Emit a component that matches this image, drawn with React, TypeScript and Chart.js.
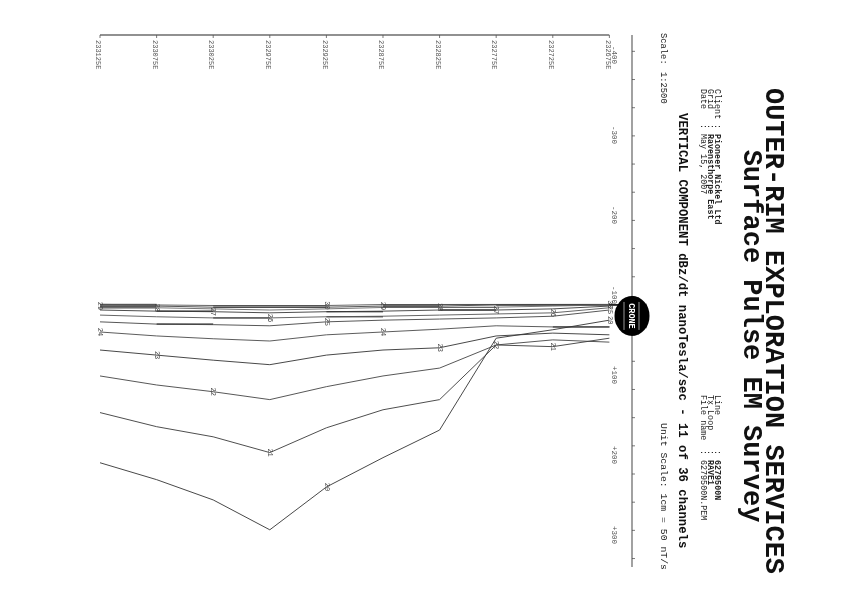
import React, { useEffect, useRef } from "react";
import { Chart, registerables } from "chart.js";

Chart.register(...registerables);

// ---------- DATA ----------
const TITLE = "OUTER-RIM EXPLORATION SERVICES";
const SUBTITLE = "Surface Pulse EM Survey";
const INFO_LEFT: [string, string, boolean][] = [
  ["Client", "Pioneer Nickel Ltd", true],
  ["Grid", "Ravensthorpe East", true],
  ["Date", "May 15, 2007", false],
];
const INFO_RIGHT: [string, string, boolean][] = [
  ["Line", "6279500N", true],
  ["Tx Loop", "RAVE1", true],
  ["File name", "6279500N.PEM", false],
];
const COMPONENT_TEXT = "VERTICAL COMPONENT dBz/dt nanoTesla/sec - 11 of 36 channels";
const SCALE_LABEL = "Scale:";
const SCALE_VALUE = "1:2500";
const UNIT_SCALE_TEXT = "Unit Scale: 1cm = 50 nT/s";
const LOGO_TEXT = "CRONE";

// stations (easting, m)
const STATIONS = [232675, 232725, 232775, 232825, 232875, 232925, 232975, 233025, 233075, 233125];
// channel numbers
const CHANNELS = [20, 21, 22, 23, 24, 25, 26, 27, 28, 29, 30];
// dBz/dt values in nT/s, one per station (same order as STATIONS)
const CH20 = [27, 44, 59, 222, 271, 323, 399, 346, 310, 280];
const CH21 = [59, 74, 71, 168, 186, 218, 262, 234, 216, 191];
const CH22 = [66, 62, 71, 112, 126, 145, 168, 154, 142, 126];
const CH23 = [53, 50, 55, 76, 80, 89, 106, 98, 89, 80];
const CH24 = [39, 39, 37, 43, 48, 53, 64, 60, 55, 48];
const CH25 = [9, 20, 23, 25, 27, 30, 37, 35, 34, 30];
const CH26 = [5, 14, 16, 18, 20, 21, 23, 23, 21, 18];
const CH27 = [2, 7, 9, 9, 11, 12, 14, 12, 11, 9];
const CH28 = [0, 2, 4, 4, 5, 7, 9, 7, 5, 5];
const CH29 = [0, 0, 0, 2, 2, 4, 4, 4, 2, 2];
const CH30 = [-1, -1, -1, -1, 0, 1, 1, 1, 0, -1];
const SERIES = [CH20, CH21, CH22, CH23, CH24, CH25, CH26, CH27, CH28, CH29, CH30];

// amplitude axis ticks (nT/s) and the printed labels of the side axis
const AMP_TICK_STEP = 50;
const AMP_MIN = -479;
const AMP_MAX = 465;
const SIDE_LABELS = ["-400", "-300", "-200", "-100", "+100", "+200", "+300"];

const MONO = "'Liberation Mono', 'Courier New', 'DejaVu Sans Mono', monospace";

const decor = {
  id: "decor",
  afterDraw(chart: any) {
    const ctx: CanvasRenderingContext2D = chart.ctx;
    const xs = chart.scales.x;
    const ys = chart.scales.y;
    const ls = chart.scales.lab;
    const ca = chart.chartArea;
    ctx.save();

    // Titles
    ctx.fillStyle = "#111";
    ctx.textBaseline = "alphabetic";
    ctx.textAlign = "center";
    ctx.font = `bold 27px ${MONO}`;
    ctx.fillText(TITLE, 331, 76);
    ctx.fillText(SUBTITLE, 336, 98);

    // Info blocks
    ctx.textAlign = "left";
    const drawInfo = (rows: [string, string, boolean][], x0: number, xc: number) => {
      rows.forEach(([k, v, b], i) => {
        const base = 127 + i * 7.2;
        ctx.fillStyle = "#222";
        ctx.font = `8.4px ${MONO}`;
        ctx.fillText(k, x0, base);
        ctx.fillText(":", xc, base);
        ctx.font = `${b ? "bold " : ""}8.4px ${MONO}`;
        ctx.fillText(v, xc + 10, base);
      });
    };
    drawInfo(INFO_LEFT, 89, 124);
    drawInfo(INFO_RIGHT, 395, 450);

    ctx.fillStyle = "#111";
    ctx.font = `bold 12.3px ${MONO}`;
    ctx.fillText(COMPONENT_TEXT, 113, 163);
    ctx.font = `8.8px ${MONO}`;
    ctx.fillStyle = "#222";
    ctx.fillText(SCALE_LABEL, 33, 181);
    ctx.fillText(SCALE_VALUE, 72, 181);
    ctx.textAlign = "right";
    ctx.font = `9.8px ${MONO}`;
    ctx.fillText(UNIT_SCALE_TEXT, ca.right + 3, 181);

    // Station axis (left edge of plot)
    const yFirst = ys.getPixelForValue(STATIONS[0]);
    const yLast = ys.getPixelForValue(STATIONS[STATIONS.length - 1]);
    ctx.strokeStyle = "#555";
    ctx.lineWidth = 1.3;
    ctx.beginPath();
    ctx.moveTo(ca.left, yFirst);
    ctx.lineTo(ca.left, yLast);
    ctx.stroke();
    ctx.lineWidth = 0.8;
    ctx.font = `7px ${MONO}`;
    ctx.fillStyle = "#555";
    ctx.textAlign = "left";
    ctx.textBaseline = "middle";
    STATIONS.forEach((s) => {
      const py = ys.getPixelForValue(s);
      ctx.beginPath();
      ctx.moveTo(ca.left, py);
      ctx.lineTo(ca.left + 3, py);
      ctx.stroke();
      ctx.fillText(`${s}E`, ca.left + 5, py + 2);
    });

    // Amplitude axis (top of plot)
    ctx.strokeStyle = "#444";
    ctx.lineWidth = 1;
    ctx.beginPath();
    ctx.moveTo(ca.left, ca.top);
    ctx.lineTo(ca.right, ca.top);
    ctx.stroke();
    ctx.lineWidth = 0.7;
    for (let v = Math.ceil(AMP_MIN / AMP_TICK_STEP) * AMP_TICK_STEP; v <= AMP_MAX; v += AMP_TICK_STEP) {
      if (v === 0) continue;
      const px = xs.getPixelForValue(v);
      ctx.beginPath();
      ctx.moveTo(px, ca.top);
      ctx.lineTo(px, ca.top - 3);
      ctx.stroke();
    }
    ctx.font = `7.5px ${MONO}`;
    ctx.fillStyle = "#555";
    ctx.textAlign = "center";
    ctx.textBaseline = "alphabetic";
    SIDE_LABELS.forEach((t, i) => {
      ctx.fillText(t, ls.getPixelForValue(i), ca.top + 20);
    });

    // zero line from first station to axis
    const x0 = xs.getPixelForValue(0);
    ctx.strokeStyle = "#000";
    ctx.lineWidth = 1.6;
    ctx.beginPath();
    ctx.moveTo(x0, yFirst);
    ctx.lineTo(x0, ca.top);
    ctx.stroke();

    // Logo
    const lx = x0 + 11;
    ctx.fillStyle = "#000";
    ctx.beginPath();
    ctx.ellipse(lx, ca.top, 20, 17.5, 0, 0, Math.PI * 2);
    ctx.fill();
    ctx.fillStyle = "#fff";
    ctx.font = `bold 8.5px ${MONO}`;
    ctx.textBaseline = "middle";
    ctx.fillText(LOGO_TEXT, lx, ca.top + 1);
    ctx.strokeStyle = "#fff";
    ctx.lineWidth = 0.6;
    ctx.beginPath();
    ctx.moveTo(lx - 14, ca.top - 7);
    ctx.lineTo(lx + 14, ca.top - 7);
    ctx.moveTo(lx - 14, ca.top + 8);
    ctx.lineTo(lx + 14, ca.top + 8);
    ctx.stroke();

    // Channel labels along the profiles
    ctx.fillStyle = "#444";
    ctx.font = `7px ${MONO}`;
    ctx.textAlign = "center";
    ctx.textBaseline = "middle";
    CHANNELS.forEach((ch, d) => {
      SERIES[d].forEach((v, s) => {
        if ((((ch - s) % 5) + 5) % 5 === 0) {
          ctx.fillText(String(ch), xs.getPixelForValue(v), ys.getPixelForValue(STATIONS[s]));
        }
      });
    });

    ctx.restore();
  },
};

export default function App() {
  const ref = useRef<HTMLCanvasElement>(null);
  useEffect(() => {
    const canvas = ref.current;
    if (!canvas) return;
    const shades = ["#333", "#3a3a3a", "#444", "#333", "#4a4a4a", "#444", "#555", "#3a3a3a", "#666", "#444", "#555"];
    const datasets = CHANNELS.map((ch, d) => ({
      label: `Ch ${ch}`,
      data: SERIES[d].map((v, s) => ({ x: v, y: STATIONS[s] })),
      showLine: true,
      borderColor: shades[d],
      borderWidth: 0.9,
      pointRadius: 0,
      tension: 0,
      fill: false,
    }));
    const chart = new Chart(canvas, {
      type: "scatter",
      data: { datasets },
      options: {
        responsive: false,
        animation: false,
        devicePixelRatio: 1,
        layout: { padding: { left: 35, right: 28, top: 210, bottom: 100 } },
        plugins: { legend: { display: false }, tooltip: { enabled: false } },
        scales: {
          x: { type: "linear", min: AMP_MIN, max: AMP_MAX, display: false },
          lab: { type: "linear", axis: "x", min: -0.25, max: 6.4, display: false },
          y: { type: "linear", min: 232655, max: 233125, reverse: true, display: false },
        },
      } as any,
      plugins: [decor],
    });
    return () => chart.destroy();
  }, []);
  return (
    <div style={{ position: "fixed", left: 0, top: 0, width: 842, height: 595, overflow: "hidden", background: "#fff" }}>
      <div
        style={{
          position: "absolute",
          left: 0,
          top: 0,
          width: 595,
          height: 842,
          transformOrigin: "0 0",
          transform: "translate(842px, 0px) rotate(90deg)",
        }}
      >
        <canvas ref={ref} width={595} height={842} style={{ width: 595, height: 842, display: "block" }} />
      </div>
    </div>
  );
}
